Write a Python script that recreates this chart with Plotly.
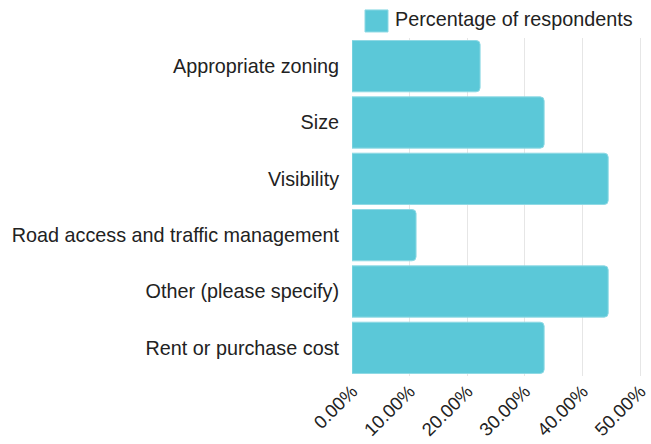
import plotly.graph_objects as go

# Survey answers, listed top to bottom
categories = [
    "Appropriate zoning",
    "Size",
    "Visibility",
    "Road access and traffic management",
    "Other (please specify)",
    "Rent or purchase cost",
]
shares = [0.2222, 0.3333, 0.4444, 0.1111, 0.4444, 0.3333]
series_name = "Percentage of respondents"
tick_values = [0, 0.1, 0.2, 0.3, 0.4, 0.5]

bar_color = "#5bc8d8"
font_family = "Liberation Sans, Arial, Helvetica, sans-serif"

fig = go.Figure()
fig.add_trace(go.Bar(
    x=shares,
    y=categories,
    orientation="h",
    name=series_name,
    marker=dict(color=bar_color, line=dict(color="#8ed9e4", width=1), cornerradius=4),
    showlegend=False,
    hovertemplate="%{y}: %{x:.2%}<extra></extra>",
))

# Legend: large swatch plus label above the plot area
fig.add_shape(type="rect", xref="paper", yref="paper",
              x0=0.0442, x1=0.1225, y0=1.0178, y1=1.083,
              fillcolor=bar_color, line=dict(color="#8ed9e4", width=1))
fig.add_annotation(text=series_name, xref="paper", yref="paper",
                   x=0.1396, y=1.056, xanchor="left", yanchor="middle",
                   showarrow=False, font=dict(size=19.8, color="#222222"))

fig.update_layout(
    width=651, height=444,
    margin=dict(l=352, r=5, t=38, b=68),
    plot_bgcolor="white", paper_bgcolor="white",
    font=dict(family=font_family, size=19.8, color="#222222"),
    bargap=0.09,
    showlegend=False,
    xaxis=dict(range=[0, 0.51], tickvals=tick_values, tickformat=".2%",
               tickangle=-45, tickfont=dict(size=18.5),
               ticklabeloverflow="allow",
               showgrid=True, gridcolor="#e6e6e6", gridwidth=1,
               zeroline=False, showline=False, ticks="", fixedrange=True,
               automargin=False),
    yaxis=dict(autorange="reversed", showgrid=False, zeroline=False,
               ticks="outside", ticklen=8, tickcolor="rgba(0,0,0,0)",
               type="category", automargin=False),
)

fig.write_html("out.html")
